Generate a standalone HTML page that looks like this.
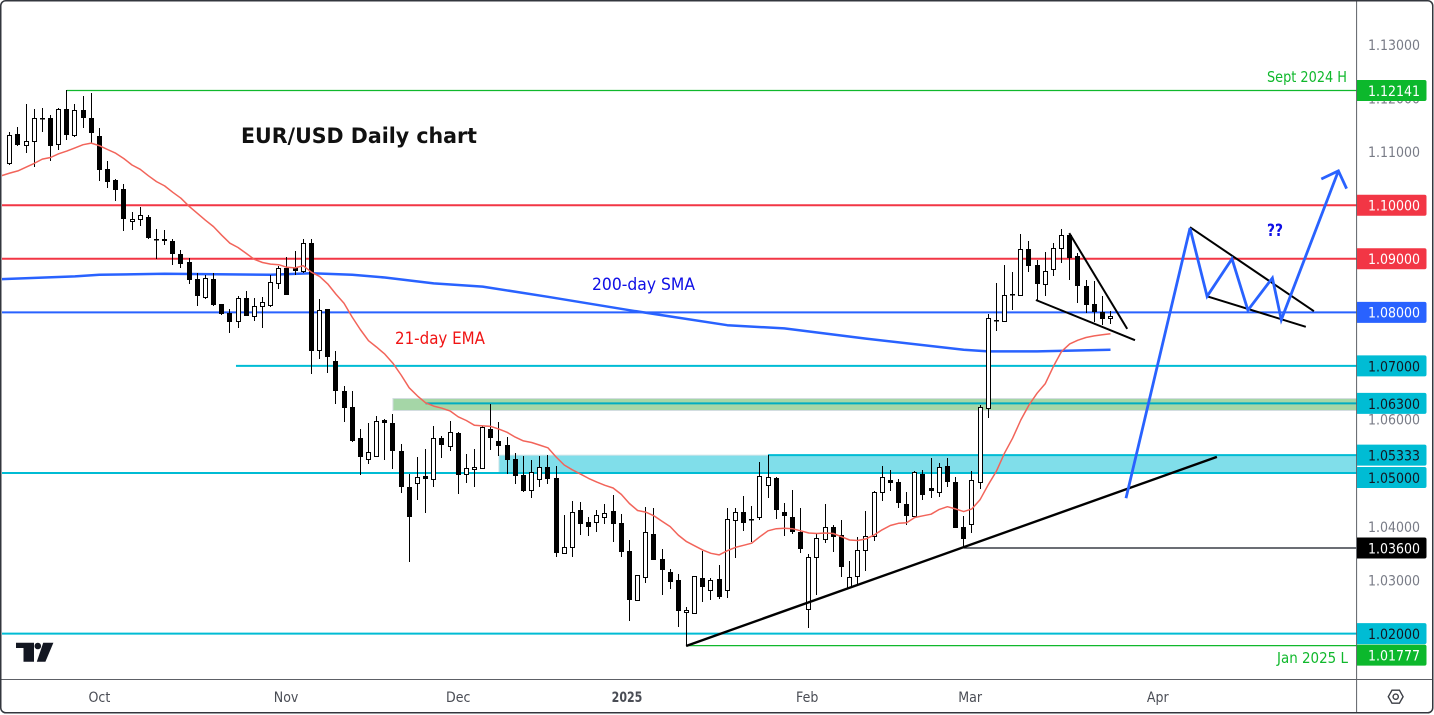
<!DOCTYPE html>
<html lang="en">
<head>
<meta charset="utf-8">
<title>EUR/USD Daily chart</title>
<style>
html,body{margin:0;padding:0;width:1434px;height:715px;background:#fff;overflow:hidden}
svg{display:block;font-family:"DejaVu Sans","Liberation Sans",sans-serif}
</style>
</head>
<body>
<svg id="chart" xmlns="http://www.w3.org/2000/svg" width="1434" height="715" viewBox="0 0 1434 715">
  <defs><clipPath id="plot-clip"><rect x="2" y="2" width="1354.5" height="677"/></clipPath></defs>
  <rect x="0" y="0" width="1434" height="715" fill="#fff"/>
  <g id="plot" clip-path="url(#plot-clip)">
    <g id="zones"></g>
    <g id="levels"></g>
    <polyline id="sma-line" fill="none" stroke="#2962ff" stroke-width="2.5" stroke-linejoin="round"/>
    <g id="candles"></g>
    <polyline id="ema-line" fill="none" stroke="#f2645a" stroke-width="1.5" stroke-linejoin="round"/>
    <g id="drawings"></g>
  </g>
  <text x="241" y="143" font-size="21" font-weight="700" fill="#111" textLength="236" lengthAdjust="spacingAndGlyphs">EUR/USD Daily chart</text>
  <text x="592" y="290" font-size="17" fill="#0f0fe6" textLength="103" lengthAdjust="spacingAndGlyphs">200-day SMA</text>
  <text x="395" y="344" font-size="17" fill="#f01414" textLength="90" lengthAdjust="spacingAndGlyphs">21-day EMA</text>
  <text x="1267" y="236" font-size="17" font-weight="700" fill="#0f0fe6" textLength="16" lengthAdjust="spacingAndGlyphs">??</text>
  <text x="1267" y="82" font-size="15" fill="#10b82c" textLength="80" lengthAdjust="spacingAndGlyphs">Sept 2024 H</text>
  <text x="1277" y="663" font-size="15" fill="#10b82c" textLength="71" lengthAdjust="spacingAndGlyphs">Jan 2025 L</text>
  <g fill="#131722">
    <path d="M16 642.7H34V661.7H23.5V648H16Z"/>
    <circle cx="37.8" cy="646" r="3.3"/>
    <path d="M43.2 642.7H53.4L45.4 661.7H36.8Z"/>
  </g>
  <line x1="1356.6" y1="1" x2="1356.6" y2="712" stroke="#5d6066" stroke-width="1"/>
  <line x1="1" y1="679.5" x2="1433" y2="679.5" stroke="#5d6066" stroke-width="1"/>
  <g id="price-ticks"></g>
  <g id="price-tags"></g>
  <g id="month-ticks"></g>
  <g fill="none" stroke="#3b3e45" stroke-width="1.4">
    <path d="M1388.3 696.7L1392 690.2H1399.4L1403.1 696.7L1399.4 703.2H1392Z"/>
    <circle cx="1395.7" cy="696.7" r="2.6"/>
  </g>
  <rect x="0.75" y="0.75" width="1432" height="712" rx="5" fill="none" stroke="#33363d" stroke-width="1.5"/>
</svg>
<script>
const barOpen = [
1.1079,1.1133,1.1113,1.1119,1.1162,1.1162,1.1114,1.1179,1.1132,1.1177,
1.1163,1.1130,1.1068,1.1047,1.1031,1.0970,1.0974,1.0978,1.0936,1.0936,
1.0933,1.0908,1.0894,1.0862,1.0829,1.0862,1.0815,1.0799,1.0783,1.0826,
1.0794,1.0811,1.0814,1.0854,1.0883,1.0883,1.0878,1.0929,1.0729,1.0806,
1.0709,1.0653,1.0623,1.0565,1.0527,1.0531,1.0599,1.0593,1.0542,1.0474,
1.0482,1.0494,1.0488,1.0565,1.0551,1.0575,1.0498,1.0507,1.0510,1.0583,
1.0560,1.0552,1.0526,1.0496,1.0468,1.0488,1.0511,1.0491,1.0351,1.0361,
1.0430,1.0409,1.0408,1.0418,1.0429,1.0407,1.0354,1.0262,1.0305,1.0386,
1.0339,1.0315,1.0300,1.0240,1.0238,1.0304,1.0282,1.0302,1.0281,1.0413,
1.0427,1.0415,1.0417,1.0477,1.0491,1.0427,1.0418,1.0390,1.0247,1.0343,
1.0376,1.0399,1.0384,1.0288,1.0307,1.0357,1.0383,1.0464,1.0487,1.0483,
1.0442,1.0419,1.0498,1.0472,1.0464,1.0513,1.0483,1.0399,1.0404,1.0484,
1.0621,1.0785,1.0784,1.0833,1.0833,1.0918,1.0888,1.0852,1.0880,1.0920,
1.0944,1.0905,1.0850,1.0815,1.0801,1.0789];
const barHigh = [
1.1137,1.1146,1.1189,1.1180,1.1181,1.1168,1.1181,1.1215,1.1189,1.1204,
1.1210,1.1144,1.1083,1.1049,1.1039,1.0987,1.0997,1.0982,1.0955,1.0954,
1.0937,1.0916,1.0901,1.0874,1.0870,1.0873,1.0816,1.0806,1.0830,1.0840,
1.0826,1.0829,1.0870,1.0887,1.0904,1.0914,1.0936,1.0936,1.0825,1.0807,
1.0728,1.0662,1.0653,1.0582,1.0593,1.0606,1.0601,1.0610,1.0554,1.0498,
1.0530,1.0545,1.0587,1.0570,1.0597,1.0577,1.0535,1.0544,1.0588,1.0629,
1.0595,1.0567,1.0538,1.0531,1.0524,1.0531,1.0533,1.0513,1.0422,1.0448,
1.0445,1.0418,1.0430,1.0443,1.0459,1.0423,1.0375,1.0309,1.0437,1.0434,
1.0358,1.0320,1.0311,1.0249,1.0308,1.0354,1.0304,1.0329,1.0434,1.0434,
1.0457,1.0438,1.0521,1.0534,1.0492,1.0444,1.0468,1.0435,1.0348,1.0387,
1.0442,1.0403,1.0412,1.0336,1.0380,1.0429,1.0466,1.0513,1.0506,1.0488,
1.0465,1.0503,1.0506,1.0528,1.0519,1.0528,1.0492,1.0420,1.0504,1.0627,
1.0796,1.0855,1.0888,1.0876,1.0947,1.0933,1.0898,1.0912,1.0929,1.0956,
1.0947,1.0910,1.0860,1.0859,1.0830,1.0803];
const barLow = [
1.1075,1.1110,1.1098,1.1071,1.1137,1.1083,1.1103,1.1122,1.1127,1.1144,
1.1116,1.1046,1.1033,1.1008,1.0952,1.0954,1.0962,1.0937,1.0900,1.0926,
1.0888,1.0883,1.0853,1.0812,1.0825,1.0812,1.0795,1.0762,1.0771,1.0793,
1.0783,1.0770,1.0809,1.0844,1.0832,1.0870,1.0874,1.0684,1.0713,1.0687,
1.0629,1.0596,1.0557,1.0497,1.0517,1.0530,1.0524,1.0507,1.0463,1.0333,
1.0450,1.0425,1.0474,1.0528,1.0542,1.0461,1.0481,1.0473,1.0508,1.0543,
1.0532,1.0498,1.0479,1.0464,1.0454,1.0474,1.0479,1.0344,1.0348,1.0344,
1.0385,1.0382,1.0390,1.0405,1.0372,1.0344,1.0224,1.0261,1.0295,1.0337,
1.0273,1.0284,1.0213,1.0177,1.0237,1.0259,1.0262,1.0265,1.0267,1.0342,
1.0392,1.0371,1.0413,1.0454,1.0414,1.0382,1.0387,1.0351,1.0211,1.0272,
1.0370,1.0353,1.0306,1.0287,1.0291,1.0317,1.0373,1.0448,1.0466,1.0435,
1.0402,1.0418,1.0450,1.0453,1.0455,1.0474,1.0397,1.0360,1.0388,1.0471,
1.0603,1.0766,1.0782,1.0804,1.0831,1.0876,1.0823,1.0831,1.0868,1.0893,
1.0861,1.0817,1.0798,1.0782,1.0776,1.0779];
const barClose = [
1.1132,1.1113,1.1119,1.1162,1.1161,1.1111,1.1179,1.1132,1.1177,1.1162,
1.1134,1.1066,1.1044,1.1029,1.0975,1.0974,1.0981,1.0938,1.0936,1.0934,
1.0908,1.0891,1.0861,1.0831,1.0865,1.0814,1.0797,1.0781,1.0826,1.0794,
1.0811,1.0819,1.0856,1.0882,1.0833,1.0878,1.0929,1.0728,1.0804,1.0717,
1.0654,1.0622,1.0560,1.0529,1.0540,1.0598,1.0594,1.0542,1.0473,1.0418,
1.0493,1.0488,1.0565,1.0553,1.0576,1.0497,1.0509,1.0511,1.0585,1.0566,
1.0551,1.0525,1.0495,1.0467,1.0501,1.0511,1.0489,1.0351,1.0361,1.0428,
1.0404,1.0400,1.0421,1.0425,1.0405,1.0353,1.0263,1.0309,1.0389,1.0338,
1.0318,1.0297,1.0243,1.0244,1.0307,1.0288,1.0301,1.0268,1.0415,1.0427,
1.0407,1.0415,1.0494,1.0492,1.0430,1.0420,1.0389,1.0359,1.0344,1.0378,
1.0400,1.0381,1.0325,1.0305,1.0357,1.0382,1.0464,1.0492,1.0481,1.0444,
1.0420,1.0501,1.0459,1.0467,1.0512,1.0483,1.0398,1.0376,1.0486,1.0624,
1.0789,1.0783,1.0832,1.0834,1.0918,1.0887,1.0852,1.0878,1.0921,1.0944,
1.0902,1.0850,1.0814,1.0800,1.0788,1.0794];
// 21-day EMA: first value sits one bar before barOpen[0]
const emaValues = [
1.1055,1.1060,1.1064,1.1071,1.1078,1.1086,1.1089,1.1096,1.1101,1.1107,
1.1113,1.1116,1.1111,1.1104,1.1097,1.1087,1.1075,1.1067,1.1055,1.1044,
1.1036,1.1024,1.1013,1.0998,1.0985,1.0972,1.0960,1.0944,1.0929,1.0921,
1.0910,1.0899,1.0893,1.0890,1.0889,1.0884,1.0883,1.0887,1.0875,1.0867,
1.0853,1.0834,1.0817,1.0791,1.0768,1.0747,1.0735,1.0722,1.0705,1.0683,
1.0659,1.0644,1.0631,1.0625,1.0621,1.0616,1.0605,1.0598,1.0589,1.0588,
1.0587,1.0582,1.0576,1.0567,1.0560,1.0557,1.0552,1.0547,1.0530,1.0515,
1.0506,1.0498,1.0490,1.0483,1.0477,1.0472,1.0460,1.0443,1.0430,1.0427,
1.0420,1.0410,1.0400,1.0384,1.0372,1.0364,1.0356,1.0350,1.0347,1.0355,
1.0361,1.0365,1.0369,1.0381,1.0392,1.0396,1.0397,1.0396,1.0392,1.0388,
1.0387,1.0388,1.0387,1.0381,1.0375,1.0374,1.0377,1.0384,1.0394,1.0402,
1.0406,1.0407,1.0417,1.0420,1.0423,1.0432,1.0437,1.0433,1.0428,1.0433,
1.0450,1.0478,1.0503,1.0537,1.0565,1.0599,1.0627,1.0649,1.0667,1.0699,
1.0727,1.0741,1.0748,1.0753,1.0756,1.0758,1.0760];
const smaBars = [-1,8,11,19,32,37,42,46,52,58,66,76,88,95,105,117,120,126,135];
const smaValues = [1.0862,1.0867,1.0870,1.0872,1.0870,1.0873,1.0870,1.0865,1.0854,1.0848,1.0829,1.0804,1.0776,1.0770,1.0751,1.0730,1.0727,1.0727,1.0730];
const priceTickValues = [1.13,1.12,1.11,1.10,1.09,1.08,1.07,1.06,1.05,1.04,1.03,1.02];
const monthLabels = ["Oct","Nov","Dec","2025","Feb","Mar","Apr"];
const monthBars = [11,33.9,55,75.7,97.8,117.8,140.8];
const tagValues = ["1.12141","1.10000","1.09000","1.08000","1.07000","1.06300","1.05333","1.05000","1.03600","1.02000","1.01777"];

const NS = "http://www.w3.org/2000/svg";
function xOf(bar){ return 9.7 + 8.154*bar; }
function yOf(price){ return 205.2 + (1.10 - price)*5356; }
function make(tag, attrs, parent){
  const el = document.createElementNS(NS, tag);
  for (const k in attrs) el.setAttribute(k, attrs[k]);
  parent.appendChild(el);
  return el;
}

/* zones */
const zones = document.getElementById("zones");
const zoneGreen = make("rect",{x:xOf(47),y:398.5,width:1000,height:12,fill:"#a5d6a7",stroke:"#d3dde0","stroke-width":1},zones);


const zoneCyan = make("rect",{x:xOf(60),y:yOf(1.05333),width:900,height:yOf(1.05)-yOf(1.05333),fill:"#80deea",stroke:"#cfe3e8","stroke-width":1},zones);



/* horizontal levels */
const levels = document.getElementById("levels");
function level(price, startBar, color, width){
  const el = make("line",{x1:xOf(startBar),x2:1357,y1:yOf(price),y2:yOf(price),stroke:color,"stroke-width":width},levels);
  
  
}
level(1.12141,7,"#10b82c",1.2);
level(1.10,-2,"#f23645",2);
level(1.09,-2,"#f23645",2);
level(1.08,-2,"#2962ff",2);
level(1.07,27.75,"#00bcd4",2);
level(1.063,51,"#00acc1",2);
level(1.05333,93,"#00bcd4",2);
level(1.05,-2,"#00bcd4",2);
level(1.036,117,"#131722",1.2);
level(1.02,-2,"#00bcd4",2);
level(1.01777,83,"#10b82c",1.2);

/* moving averages */
document.getElementById("sma-line").setAttribute("points", smaValues.map((v,i)=>xOf(smaBars[i]).toFixed(1)+","+yOf(v).toFixed(1)).join(" "));
document.getElementById("ema-line").setAttribute("points", emaValues.map((v,i)=>xOf(i-1).toFixed(1)+","+yOf(v).toFixed(1)).join(" "));

/* candles */
const candles = document.getElementById("candles");
barOpen.forEach((open,i)=>{
  const close = barClose[i];
  const cx = Math.floor(xOf(i)) + 0.5;
  const g = make("g",{},candles);
  
  
  const wick = make("line",{x1:cx,x2:cx,y1:Math.round(yOf(barHigh[i])),y2:Math.round(yOf(barLow[i])),stroke:"#000","stroke-width":1},g);
  
  
  const top = Math.round(yOf(Math.max(open,close)));
  const bottom = Math.round(yOf(Math.min(open,close)));
  const up = close >= open && bottom - top >= 2;
  let body;
  if (up) {
    body = make("rect",{x:cx-2,y:top+0.5,width:4,height:bottom-top,fill:"#fff",stroke:"#000","stroke-width":1},g);
  } else {
    body = make("rect",{x:cx-2.5,y:top,width:5,height:Math.max(1.5,bottom-top),fill:"#000"},g);
  }
  
  
});

/* annotations given as [bar, price] */
const mainTrend = [[83,1.0177],[148.1,1.0530]];
const wedgeUpper = [[130,1.0948],[137.1,1.0769]];
const wedgeLower = [[125.9,1.0823],[138.05,1.0748]];
const futureUpper = [[144.8,1.0959],[160,1.0802]];
const futureLower = [[146.9,1.0830],[159,1.0773]];
const forecastPath = [[136.95,1.0453],[144.8,1.0957],[146.9,1.0830],[149.95,1.0900],[151.9,1.0804],[154.9,1.0864],[156,1.0786],[163,1.1064]];
const forecastHead = [[160.9,1.1049],[163,1.1064],[164,1.1031]];
const drawings = document.getElementById("drawings");
function pts(list){ return list.map(p=>(xOf(p[0])-0.4).toFixed(1)+","+yOf(p[1]).toFixed(1)).join(" "); }
const trendLine = make("polyline",{points:pts(mainTrend),fill:"none",stroke:"#000","stroke-width":2.4},drawings);


const wedgeTop = make("polyline",{points:pts(wedgeUpper),fill:"none",stroke:"#000","stroke-width":2},drawings);


const wedgeBottom = make("polyline",{points:pts(wedgeLower),fill:"none",stroke:"#000","stroke-width":2},drawings);


const projTop = make("polyline",{points:pts(futureUpper),fill:"none",stroke:"#000","stroke-width":2},drawings);


const projBottom = make("polyline",{points:pts(futureLower),fill:"none",stroke:"#000","stroke-width":2},drawings);


const forecast = make("polyline",{points:pts(forecastPath),fill:"none",stroke:"#2962ff","stroke-width":2.8,"stroke-linejoin":"miter"},drawings);


const arrowHead = make("polyline",{points:pts(forecastHead),fill:"none",stroke:"#2962ff","stroke-width":2.8},drawings);



/* price axis */
const priceTicks = document.getElementById("price-ticks");
priceTickValues.forEach(v=>{
  const t = make("text",{x:1368,y:(yOf(v)+5.3).toFixed(1),"font-size":14.5,fill:"#787b86",textLength:52,lengthAdjust:"spacingAndGlyphs"},priceTicks);
  t.textContent = v.toFixed(5);
  
  
});

const priceTags = document.getElementById("price-tags");
function tag(label, nudge, fill, ink){
  const cy = yOf(parseFloat(label)) + nudge;
  const g = make("g",{},priceTags);
  
  
  const r = make("path",{d:"M1357 "+(cy-10.5)+"H1424.5a2 2 0 0 1 2 2V"+(cy+8.5)+"a2 2 0 0 1 -2 2H1357Z",fill:fill},g);
  
  
  const t = make("text",{x:1368,y:(cy+5.4).toFixed(1),"font-size":14.5,fill:ink,textLength:52,lengthAdjust:"spacingAndGlyphs"},g);
  t.textContent = label;
  
  
}
const tagFills = ["#0cb82c","#f23645","#f23645","#2962ff","#00bcd4","#00bcd4","#00bcd4","#00bcd4","#000000","#00bcd4","#0cb82c"];
const tagInks = ["#fff","#fff","#fff","#fff","#131722","#131722","#131722","#131722","#fff","#131722","#fff"];
const tagNudges = [0,0,0,0,0,0,0,4.5,0,0,9.5];
tagValues.forEach((label,i)=>tag(label,tagNudges[i],tagFills[i],tagInks[i]));

/* time axis */
const monthTicks = document.getElementById("month-ticks");
monthLabels.forEach((label,i)=>{
  const isYear = label === "2025";
  const t = make("text",{x:xOf(monthBars[i]).toFixed(1),y:702,"font-size":14.5,fill:"#4a4d55","text-anchor":"middle","font-weight":isYear?"700":"400"},monthTicks);
  t.textContent = label;
  
  
  t.setAttribute('textLength', (t.getComputedTextLength()*(isYear?0.76:0.87)).toFixed(1));
  t.setAttribute('lengthAdjust', 'spacingAndGlyphs');
});
</script>
</body>
</html>
